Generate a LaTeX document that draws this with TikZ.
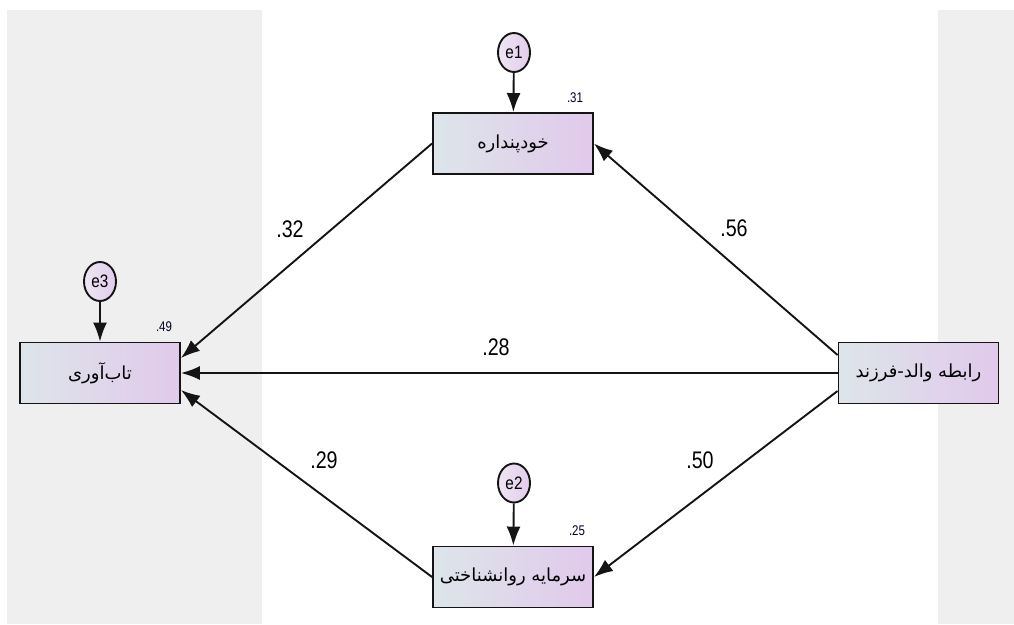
\documentclass[tikz,border=0pt]{standalone}
\usepackage{fontspec}
\setmainfont{Liberation Sans}
\newfontfamily\arabicfont[Script=Arabic]{DejaVu Sans}
\TeXXeTstate=1
\usetikzlibrary{arrows.meta,shapes.geometric}
\definecolor{panel}{HTML}{EFEFEF}
\definecolor{boxL}{HTML}{DDE5EA}
\definecolor{boxR}{HTML}{E1C9EB}
\definecolor{errL}{HTML}{EEE6F2}
\definecolor{errR}{HTML}{E2CCEC}
\definecolor{ink}{HTML}{141414}
\tikzset{
  var/.style={draw=ink, line width=1.9pt, left color=boxL, right color=boxR,
    minimum width=160pt, minimum height=61pt, inner sep=0pt,
    font=\arabicfont\fontsize{18}{20}\selectfont},
  err/.style={ellipse, draw=ink, line width=1.9pt, left color=errL, right color=errR,
    minimum width=32pt, minimum height=39pt, inner sep=0pt},
  errtext/.style={font=\fontsize{18}{18}\selectfont, xscale=0.85, inner sep=0pt},
  path/.style={line width=1.9pt, draw=ink, -{Latex[length=19pt,width=14pt]}},
  coef/.style={font=\fontsize{24}{24}\selectfont, xscale=0.82, inner sep=0pt},
  rsq/.style={font=\fontsize{14}{14}\selectfont, xscale=0.82, inner sep=0pt, text=black!85!blue}
}
\begin{document}
\begin{tikzpicture}[x=1pt,y=-1pt]
\useasboundingbox (0,0) rectangle (1014,624);
\fill[panel] (7,10) rectangle (262,624);
\fill[panel] (938,10) rectangle (1014,624);

\node[var] (self) at (513,143.5) {\beginR خودپنداره\endR};
\node[var] (res) at (100,373) {\beginR تاب‌آوری\endR};
\node[var] (par) at (918.5,373) {\beginR رابطه والد-فرزند\endR};
\node[var] (psy) at (513,577) {\beginR سرمایه روانشناختی\endR};

\node[err] (e1) at (514,52.5) {};
\node[err] (e2) at (514,483) {};
\node[err] (e3) at (100,281.5) {};
\node[errtext] (t1) at (e1) {e1};
\node[errtext] (t2) at (e2) {e2};
\node[errtext] (t3) at (e3) {e3};

\draw[path] (e1) -- (self);
\draw[path] (e2) -- (psy);
\draw[path] (e3) -- (res);

\draw[path] (self.west) -- ([yshift=15pt]res.east);
\draw[path] ([yshift=18pt]par.west) -- (self.east);
\draw[path] (par.west) -- (res.east);
\draw[path] ([yshift=-18pt]par.west) -- (psy.east);
\draw[path] (psy.west) -- ([yshift=-17pt]res.east);

\node[coef] (c1) at (290,229) {.32};
\node[coef] (c2) at (734,228) {.56};
\node[coef] (c3) at (496,347) {.28};
\node[coef] (c4) at (324,460) {.29};
\node[coef] (c5) at (700,460) {.50};

\node[rsq] (r1) at (575,98) {.31};
\node[rsq] (r2) at (164,327) {.49};
\node[rsq] (r3) at (577,531) {.25};
\end{tikzpicture}
\end{document}
